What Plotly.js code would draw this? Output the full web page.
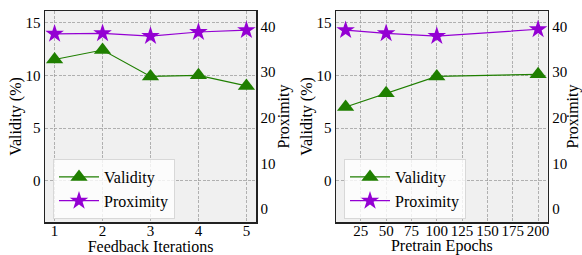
<!DOCTYPE html>
<html>
<head>
<meta charset="utf-8">
<script src="https://cdn.plot.ly/plotly-3.0.1.min.js"></script>
<style>html,body{margin:0;padding:0;background:#fff;}#chart{width:582px;height:255px;}</style>
</head>
<body>
<div id="chart"></div>
<script>
const feedbackIterations = [1, 2, 3, 4, 5];
const validityFeedback = [11.5, 12.4, 9.9, 10.0, 9.0];
const proximityFeedback = [38.4, 38.5, 37.9, 38.8, 39.2];

const pretrainEpochs = [10, 50, 100, 200];
const validityPretrain = [7.0, 8.3, 9.9, 10.1];
const proximityPretrain = [39.2, 38.5, 37.9, 39.4];

const epochTicks = [25, 50, 75, 100, 125, 150, 175, 200];

const FONT = '"Liberation Serif", "Times New Roman", serif';
const green = '#1f7f00';
const purple = '#9400d3';

function valTrace(x, y, xa, ya, lg) {
  return {x: x, y: y, xaxis: xa, yaxis: ya, name: 'Validity', mode: 'lines+markers',
    line: {color: green, width: 1.2}, marker: {symbol: 'triangle-up', size: 15, color: green},
    legend: lg, showlegend: true};
}
function proxTrace(x, y, xa, ya, lg) {
  return {x: x, y: y, xaxis: xa, yaxis: ya, name: 'Proximity', mode: 'lines+markers',
    line: {color: purple, width: 1.2}, marker: {symbol: 'star', size: 14, color: purple},
    legend: lg, showlegend: true};
}

const data = [
  valTrace(feedbackIterations, validityFeedback, 'x', 'y', 'legend'),
  proxTrace(feedbackIterations, proximityFeedback, 'x', 'y2', 'legend'),
  valTrace(pretrainEpochs, validityPretrain, 'x2', 'y3', 'legend2'),
  proxTrace(pretrainEpochs, proximityPretrain, 'x2', 'y4', 'legend2')
];

const tickFont = {family: FONT, size: 15, color: '#000'};
const titleFont = {family: FONT, size: 16, color: '#000'};
const gridCommon = {showgrid: true, gridcolor: '#a0a0a0', griddash: '3px,1.5px', gridwidth: 0.8};
const yDom = [33/255, 244/255];

function xaxis(dom, title, range, tickvals, anchor) {
  return Object.assign({domain: dom, range: range, tickvals: tickvals, anchor: anchor,
    showline: true, mirror: true, linecolor: '#222', linewidth: 1.5, zeroline: false,
    ticks: '', ticklen: 0, ticklabelstandoff: -6, tickfont: tickFont,
    title: {text: title, font: titleFont, standoff: 0}}, gridCommon);
}
function yleft(anchor) {
  return Object.assign({domain: yDom, range: [-3.9, 16.1], tickvals: [0, 5, 10, 15], anchor: anchor,
    showline: true, linecolor: '#222', linewidth: 1.5, zeroline: false, ticks: '',
    tickfont: tickFont, title: {text: 'Validity (%)', font: titleFont, standoff: 0}}, gridCommon);
}
function yright(overlay, anchor) {
  return {overlaying: overlay, side: 'right', anchor: anchor, range: [-2.8, 43.4],
    tickvals: [0, 10, 20, 30, 40], showgrid: false, zeroline: false,
    showline: true, linecolor: '#222', linewidth: 1.5, ticks: '',
    tickfont: tickFont, title: {text: 'Proximity', font: titleFont, standoff: 2}};
}

const legendCommon = {bgcolor: 'rgba(255,255,255,0.8)', bordercolor: '#d8d8d8', borderwidth: 1,
  font: {family: FONT, size: 16, color: '#000'}, xanchor: 'left', yanchor: 'top',
  tracegroupgap: 0, itemwidth: 40};

const layout = {
  width: 582, height: 255,
  margin: {l: 0, r: 0, t: 0, b: 0},
  paper_bgcolor: '#ffffff', plot_bgcolor: '#f0f0f0',
  font: {family: FONT},
  xaxis: xaxis([45/582, 256/582], 'Feedback Iterations', [0.8, 5.2], feedbackIterations, 'y'),
  yaxis: yleft('x'),
  yaxis2: yright('y', 'x'),
  xaxis2: xaxis([336/582, 547.7/582], 'Pretrain Epochs', [0.5, 209.5], epochTicks, 'y3'),
  yaxis3: yleft('x2'),
  yaxis4: yright('y3', 'x2'),
  legend: Object.assign({x: 53/582, y: (255-159)/255}, legendCommon),
  legend2: Object.assign({x: 344/582, y: (255-159)/255}, legendCommon),
  showlegend: true
};

Plotly.newPlot('chart', data, layout, {staticPlot: true, displayModeBar: false});
</script>
</body>
</html>
